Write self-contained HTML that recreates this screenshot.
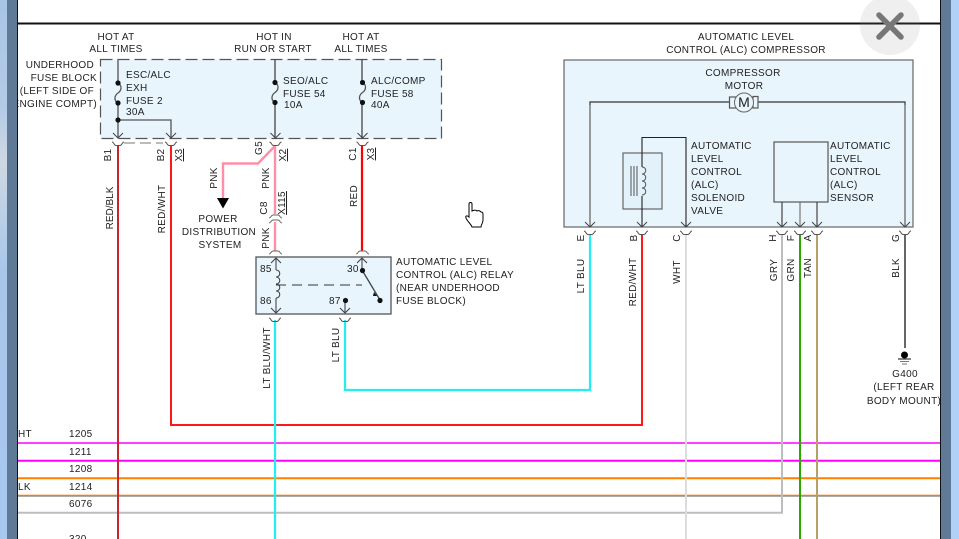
<!DOCTYPE html>
<html><head><meta charset="utf-8"><style>
html,body{margin:0;padding:0;background:#fff;width:959px;height:539px;overflow:hidden}
svg{display:block}
text{font-family:"Liberation Sans",sans-serif;font-size:10px;fill:#222;letter-spacing:.3px}
.m{text-anchor:middle}.e{text-anchor:end}
</style></head><body>
<svg width="959" height="539" viewBox="0 0 959 539" xmlns="http://www.w3.org/2000/svg">
<defs>
<linearGradient id="lb" x1="0" y1="0" x2="0" y2="1"><stop offset="0" stop-color="#a8c4e6"/><stop offset=".2" stop-color="#b4cbe6"/><stop offset=".3" stop-color="#cfd8e2"/><stop offset=".5" stop-color="#a9c6ea"/><stop offset="1" stop-color="#a9c8ee"/></linearGradient>
<g id="a"><path d="M-5-5 0 0 5-5" fill="none" stroke="#444" stroke-width="1"/></g>
<g id="c"><path d="M-6 0C-4 0-4 3.500-2 3.500H2C4 3.500 4 0 6 0" fill="none" stroke="#555" stroke-width="1"/></g>
<g id="f"><path d="M0 0C5 3 3 8 0 10C-3 12-5 17 0 20" fill="none" stroke="#555" stroke-width="1.300"/><circle r="2.600" cy="0" fill="#111"/><circle r="2.600" cy="20" fill="#111"/></g>
<g id="s"><path d="M0 0C5 0 5 7 0 7C5 7 5 14 0 14C5 14 5 21 0 21C5 21 5 28 0 28" fill="none" stroke="#555" stroke-width="1"/></g>
</defs>
<rect width="959" height="539" fill="#fff"/>
<!-- horizontal wires -->
<g fill="none">
<path d="M18 443H941" stroke="#ff40ff" stroke-width="2"/>
<path d="M18 460.800H941" stroke="#ff00ff" stroke-width="2"/>
<path d="M18 478.300H941" stroke="#ff8000" stroke-width="2"/>
<path d="M18 495H941" stroke="#ffb070" stroke-width="1"/>
<path d="M18 496H941" stroke="#7d7b70" stroke-width="1.200"/>
<path d="M18 512.800H782V235" stroke="#bdbdbd" stroke-width="2"/>
</g>
<!-- boxes -->
<rect x="100.500" y="59.500" width="341" height="79" fill="#e8f5fd"/>
<path d="M100.500 59.500H441.500V138.500H100.500Z" fill="none" stroke="#555" stroke-width="1.200" stroke-dasharray="12 5"/>
<path d="M124 143H163" stroke="#777" stroke-width="1" stroke-dasharray="11 5" fill="none"/>
<rect x="564" y="60" width="349" height="167" fill="#e8f5fd" stroke="#666" stroke-width="1.200"/>
<rect x="256" y="257" width="135" height="57" fill="#e8f5fd" stroke="#555" stroke-width="1.300"/>
<!-- external wires -->
<g fill="none" stroke-width="2">
<path d="M118 146V539" stroke="#c8242c"/>
<path d="M171 146V425H642V235" stroke="#ff1818"/>
<path d="M275 146 258 163.500H223V199" stroke="#ff8fa8" stroke-width="2.400"/>
<path d="M275 146V214M275 222V251" stroke="#ff8fa8" stroke-width="2.400"/>
<path d="M362 146V251" stroke="#ff0000" stroke-width="2.200"/>
<path d="M275 320V539" stroke="#22f0f0" stroke-width="2.200"/>
<path d="M345 320V390H590V235" stroke="#22f0f0" stroke-width="2.200"/>
<path d="M686 235V539" stroke="#dcdcdc"/>
<path d="M800 235V539" stroke="#2aa800"/>
<path d="M817 235V539" stroke="#b5a06a"/>
<path d="M905 235V348" stroke="#666"/>
</g>
<path d="M217 198H229L223 208.500Z" fill="#000"/>
<!-- fuse block internals -->
<g fill="none" stroke-width="1.300">
<path d="M118 59V83M118 103V138" stroke="#666" stroke-width="1.500"/>
<path d="M118 120H171V138" stroke="#555"/>
<path d="M275 59V82M275 103V138" stroke="#444"/>
<path d="M362 59V82M362 103V138" stroke="#444"/>
</g>
<use href="#f" x="118" y="83"/><use href="#f" x="275" y="82.500"/><use href="#f" x="362.500" y="82.500"/>
<circle cx="118" cy="120" r="2.600" fill="#111"/>
<use href="#a" x="118" y="138"/><use href="#a" x="171" y="138"/><use href="#a" x="275.500" y="138"/><use href="#a" x="362.500" y="138"/>
<use href="#c" x="118" y="142"/><use href="#c" x="171" y="142"/><use href="#c" x="275.500" y="142"/><use href="#c" x="362.500" y="142"/>
<!-- C8 inline connector -->
<path d="M269 218C271 218 271 215 273 215H278C280 215 280 218 282 218M269 223C271 223 271 220 273 220H278C280 220 280 223 282 223" fill="none" stroke="#666"/>
<!-- relay -->
<path d="M269 254C271 254 271 251 273 251H278C280 251 280 254 282 254M356 254C358 254 358 251 360 251H365C367 251 367 254 369 254" fill="none" stroke="#666"/>
<g fill="none" stroke="#444" stroke-width="1.100">
<path d="M276 258V270M276 298V313M271 263 276 258 281 263M271 308 276 313 281 308"/>
<path d="M276 270C281 270 281 277 276 277C281 277 281 284 276 284C281 284 281 291 276 291C281 291 281 298 276 298"/>
<path d="M276 285H362" stroke-dasharray="10 6" stroke="#333"/>
<path d="M362 270V258M357 263 362 258 367 263"/>
<path d="M362 270 380 300" stroke-width="1.300"/>
<path d="M345 300V313M340 308 345 313 350 308"/>
</g>
<circle cx="362.500" cy="270.500" r="2.600" fill="#111"/><circle cx="380" cy="300.500" r="2.600" fill="#111"/><circle cx="345.500" cy="300.500" r="2.600" fill="#111"/>
<path d="M374 292 377 296 373 296Z" fill="#111"/>
<use href="#c" x="275" y="318"/><use href="#c" x="345" y="318"/>
<!-- compressor internals -->
<g fill="none">
<path d="M590 227V102H730M758 102H905V227" stroke="#333" stroke-width="1.200"/>
<path d="M590 105V227M905 105V227" stroke="#777" stroke-width="1.200"/>
<rect x="729.500" y="97" width="6.500" height="11" fill="#e8f5fd" stroke="#555" stroke-width="1.200"/>
<rect x="753" y="96.500" width="5" height="11.500" fill="#e8f5fd" stroke="#555" stroke-width="1.200"/>
<circle cx="744" cy="102.500" r="9.500" fill="#e8f5fd" stroke="#666" stroke-width="1"/>
<rect x="623" y="153" width="39" height="56" fill="#e2f1fa" stroke="#666" stroke-width="1.200"/>
<path d="M642 227V137.500H686V227" stroke="#222" stroke-width="1.100"/>
<path d="M631 166V196M634 166V196M637 166V196" stroke="#444" stroke-width=".9"/>
<rect x="774" y="142" width="54" height="60" fill="#e8f5fd" stroke="#555" stroke-width="1.200"/>
<path d="M782 202V227M817 202V227" stroke="#333" stroke-width="1.100"/>
<path d="M800 202V227" stroke="#777" stroke-width="1.200"/>
</g>
<rect x="640" y="167" width="6" height="29" fill="#e2f1fa"/>
<use href="#s" x="642" y="167"/>
<use href="#a" x="590" y="227"/><use href="#a" x="642" y="227"/><use href="#a" x="686" y="227"/><use href="#a" x="782" y="227"/><use href="#a" x="800" y="227"/><use href="#a" x="817" y="227"/><use href="#a" x="905" y="227"/>
<use href="#c" x="590" y="231"/><use href="#c" x="642" y="231"/><use href="#c" x="686" y="231"/><use href="#c" x="782" y="231"/><use href="#c" x="800" y="231"/><use href="#c" x="817" y="231"/><use href="#c" x="905" y="231"/>
<!-- ground -->
<circle cx="904.500" cy="355" r="3.500" fill="#000"/>
<path d="M898 359H911" stroke="#333" stroke-width="1.200"/>
<path d="M900 361.500H909M902 364H907" stroke="#777" stroke-width="1"/>
<!-- text -->
<text class="m" x="116" y="40">HOT AT</text><text class="m" x="116" y="52">ALL TIMES</text>
<text class="m" x="274" y="40">HOT IN</text><text class="m" x="273" y="52">RUN OR START</text>
<text class="m" x="361" y="40">HOT AT</text><text class="m" x="361" y="52">ALL TIMES</text>
<text class="m" x="746" y="40">AUTOMATIC LEVEL</text><text class="m" x="746" y="53">CONTROL (ALC) COMPRESSOR</text>
<text class="e" x="94" y="68">UNDERHOOD</text><text class="e" x="97" y="81">FUSE BLOCK</text><text class="e" x="94" y="94">(LEFT SIDE OF</text><text class="e" x="97" y="107">ENGINE COMPT)</text>
<text x="126" y="78">ESC/ALC</text><text x="126" y="91">EXH</text><text x="126" y="104">FUSE 2</text><text x="126" y="115">30A</text>
<text x="283" y="84">SEO/ALC</text><text x="283" y="97">FUSE 54</text><text x="284" y="108">10A</text>
<text x="371" y="84">ALC/COMP</text><text x="371" y="97">FUSE 58</text><text x="371" y="108">40A</text>
<text class="m" x="218" y="222">POWER</text><text class="m" x="219" y="235">DISTRIBUTION</text><text class="m" x="220" y="248">SYSTEM</text>
<text x="396" y="265">AUTOMATIC LEVEL</text><text x="396" y="278">CONTROL (ALC) RELAY</text><text x="396" y="291">(NEAR UNDERHOOD</text><text x="396" y="304">FUSE BLOCK)</text>
<text x="260" y="272">85</text><text x="260" y="304">86</text><text x="347" y="272">30</text><text x="329" y="304">87</text>
<text class="m" x="743" y="76">COMPRESSOR</text><text class="m" x="744" y="89">MOTOR</text>
<text class="m" x="744" y="107" style="font-size:14px;letter-spacing:0">M</text>
<text x="691" y="149">AUTOMATIC</text><text x="691" y="162">LEVEL</text><text x="691" y="175">CONTROL</text><text x="691" y="188">(ALC)</text><text x="691" y="201">SOLENOID</text><text x="691" y="214">VALVE</text>
<text x="830" y="149">AUTOMATIC</text><text x="830" y="162">LEVEL</text><text x="830" y="175">CONTROL</text><text x="830" y="188">(ALC)</text><text x="830" y="201">SENSOR</text>
<text class="m" x="905" y="377">G400</text><text class="m" x="904" y="390">(LEFT REAR</text><text class="m" x="904" y="404">BODY MOUNT)</text>
<text x="69" y="437">1205</text><text x="69" y="455">1211</text><text x="69" y="472">1208</text><text x="69" y="490">1214</text><text x="69" y="507">6076</text><text x="69" y="542">320</text>
<text x="18" y="437">HT</text><text x="18" y="490">LK</text>
<!-- rotated labels -->
<g class="m">
<text class="m" transform="translate(111,155) rotate(-90)">B1</text>
<text class="m" transform="translate(164,155) rotate(-90)">B2</text>
<text class="m" transform="translate(182,155) rotate(-90)" text-decoration="underline">X3</text>
<text class="m" transform="translate(113,208) rotate(-90)" style="letter-spacing:0">RED/BLK</text>
<text class="m" transform="translate(165,209) rotate(-90)">RED/WHT</text>
<text class="m" transform="translate(262,148) rotate(-90)">G5</text>
<text class="m" transform="translate(286,155) rotate(-90)" text-decoration="underline">X2</text>
<text class="m" transform="translate(217,178) rotate(-90)">PNK</text>
<text class="m" transform="translate(269,178) rotate(-90)">PNK</text>
<text class="m" transform="translate(267,208) rotate(-90)">C8</text>
<text class="m" transform="translate(285,203) rotate(-90)" text-decoration="underline">X115</text>
<text class="m" transform="translate(269,238) rotate(-90)">PNK</text>
<text class="m" transform="translate(356,154) rotate(-90)">C1</text>
<text class="m" transform="translate(374,154) rotate(-90)" text-decoration="underline">X3</text>
<text class="m" transform="translate(357,196) rotate(-90)">RED</text>
<text class="m" transform="translate(270,358) rotate(-90)">LT BLU/WHT</text>
<text class="m" transform="translate(339,345) rotate(-90)">LT BLU</text>
<text class="m" transform="translate(584,238) rotate(-90)">E</text>
<text class="m" transform="translate(637,238) rotate(-90)">B</text>
<text class="m" transform="translate(680,238) rotate(-90)">C</text>
<text class="m" transform="translate(776,238) rotate(-90)">H</text>
<text class="m" transform="translate(794,238) rotate(-90)">F</text>
<text class="m" transform="translate(811,238) rotate(-90)">A</text>
<text class="m" transform="translate(899,238) rotate(-90)">G</text>
<text class="m" transform="translate(584,276) rotate(-90)">LT BLU</text>
<text class="m" transform="translate(636,282) rotate(-90)">RED/WHT</text>
<text class="m" transform="translate(680,272) rotate(-90)">WHT</text>
<text class="m" transform="translate(777,270) rotate(-90)">GRY</text>
<text class="m" transform="translate(794,270) rotate(-90)">GRN</text>
<text class="m" transform="translate(811,268) rotate(-90)">TAN</text>
<text class="m" transform="translate(899,268) rotate(-90)">BLK</text>
</g>
<!-- hand cursor -->
<path d="M469 204C469 202 472 202 472 204V211C474 210 476 210 477 211C479 210 480 211 481 212C483 212 483 213 483 215V220C483 223 481 225 481 227H472C471 224 467 221 466 218C465 216 467 215 469 217Z" fill="#fff" stroke="#000" stroke-width="1"/>
<!-- window frame -->
<rect x="18" y="22.500" width="922" height="2" fill="#111"/>
<rect x="0" y="0" width="7" height="539" fill="url(#lb)"/>
<rect x="7" y="0" width="10" height="539" fill="#5f7a96"/>
<rect x="17" y="0" width="1" height="539" fill="#111"/>
<rect x="940" y="0" width="1" height="539" fill="#111"/>
<rect x="941" y="0" width="10" height="539" fill="#5f7a96"/>
<rect x="951" y="0" width="8" height="539" fill="#b0d0f5"/>
<!-- close button -->
<circle cx="890" cy="25" r="30" fill="#8c8c8c" fill-opacity=".14"/>
<path d="M879 15 901 37M901 15 879 37" stroke="#777" stroke-width="5.500" stroke-linecap="round"/>
</svg>
</body></html>
